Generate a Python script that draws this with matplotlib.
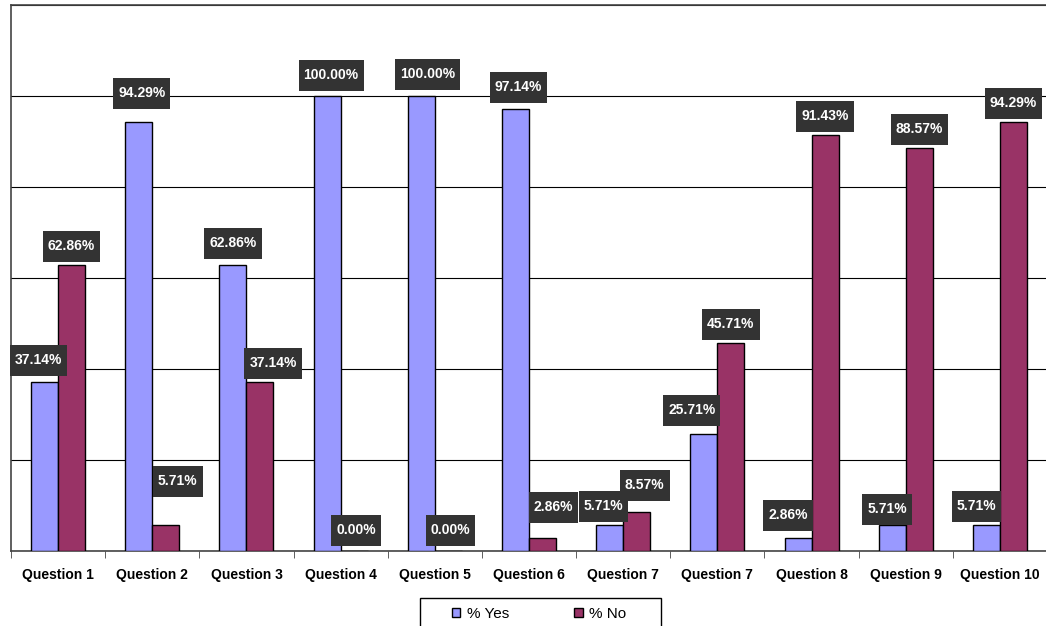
import matplotlib.pyplot as plt
import numpy as np
from matplotlib.patches import Rectangle
from matplotlib.path import Path

plt.rcParams['font.family'] = ['Liberation Sans', 'DejaVu Sans']

categories = ["Question 1", "Question 2", "Question 3", "Question 4", "Question 5",
              "Question 6", "Question 7", "Question 7", "Question 8", "Question 9",
              "Question 10"]
yes_pct = [37.14, 94.29, 62.86, 100.00, 100.00, 97.14, 5.71, 25.71, 2.86, 5.71, 5.71]
no_pct = [62.86, 5.71, 37.14, 0.00, 0.00, 2.86, 8.57, 45.71, 91.43, 88.57, 94.29]

col_yes = "#9999FF"
col_no = "#993366"

# excel shuffled some data labels around; (dx, dy) nudges in pixels
yes_nudge = [(-6, 3), (3, 10), (0, 3), (4, 2), (6, 3), (3, 3), (-6, 0), (-12, 5), (-10, 4), (-5, -3), (-10, 0)]
no_nudge = [(0, 0), (12, 25), (13, 0), (2, 2), (2, 2), (11, 12), (8, 8), (0, 0), (0, 0), (0, 0), (0, 0)]


def label_box(x0, y0, width, height, mutation_size):
    # excel-like data label box: a bit more padding top/bottom than sides
    px = 0.36 * mutation_size
    py = 0.62 * mutation_size
    l, b, r, t = x0 - px, y0 - py, x0 + width + px, y0 + height + py
    return Path([(l, b), (r, b), (r, t), (l, t), (l, b)], closed=True)


fig = plt.figure(figsize=(10.46, 6.26), dpi=100)
ax = fig.add_axes([0.0105, 0.12, 0.9905, 0.872])

x = np.arange(len(categories))
w = 0.287
b1 = ax.bar(x - w / 2, yes_pct, w, color=col_yes, edgecolor="black", linewidth=1, label="% Yes", zorder=3)
b2 = ax.bar(x + w / 2, no_pct, w, color=col_no, edgecolor="black", linewidth=1, label="% No", zorder=3)

px2pt = 72 / 100
pad_px = 0.62 * 10 / px2pt
for bars, vals, nudges in ((b1, yes_pct, yes_nudge), (b2, no_pct, no_nudge)):
    for r, v, (dx, dy) in zip(bars, vals, nudges):
        ax.annotate("%.2f%%" % v, (r.get_x() + r.get_width() / 2, v),
                    xytext=(dx * px2pt, (3 + pad_px + dy) * px2pt), textcoords="offset points",
                    ha="center", va="bottom", color="white", fontsize=10, fontweight="bold",
                    bbox=dict(boxstyle=label_box, fc="#333333", ec="none"), zorder=5)

ax.set_xlim(-0.5, len(categories) - 0.5)
ax.set_ylim(0, 120)
ax.set_yticks([0, 20, 40, 60, 80, 100, 120])
ax.set_yticklabels([])
ax.tick_params(axis="y", length=0)
ax.yaxis.grid(True, color="black", linewidth=0.8, zorder=0)

ax.set_xticks(x)
ax.set_xticklabels(categories, fontsize=10, fontweight="bold")
ax.tick_params(axis="x", which="major", length=0, pad=12)
ax.set_xticks(np.arange(-0.5, len(categories)), minor=True)
ax.tick_params(axis="x", which="minor", length=5, color="#444444")

for s in ax.spines.values():
    s.set_color("#444444")
    s.set_linewidth(1.2)

# legend frame (box runs off the bottom of the image, as in the original)
fig.patches.append(Rectangle((420 / 1046, -0.02), 241 / 1046, 1 - 598 / 626 + 0.02,
                             transform=fig.transFigure, fill=False, edgecolor="black", linewidth=1))
leg = fig.legend(loc="center left", bbox_to_anchor=(452 / 1046, 1 - 614 / 626), ncol=2,
                 frameon=False, fontsize=11, handlelength=0.55, handleheight=0.55,
                 handletextpad=0.4, columnspacing=4.3, borderpad=0, borderaxespad=0)
for h in leg.legend_handles:
    h.set_edgecolor("black")
    h.set_linewidth(1)

fig.savefig("out.png", dpi=100)
